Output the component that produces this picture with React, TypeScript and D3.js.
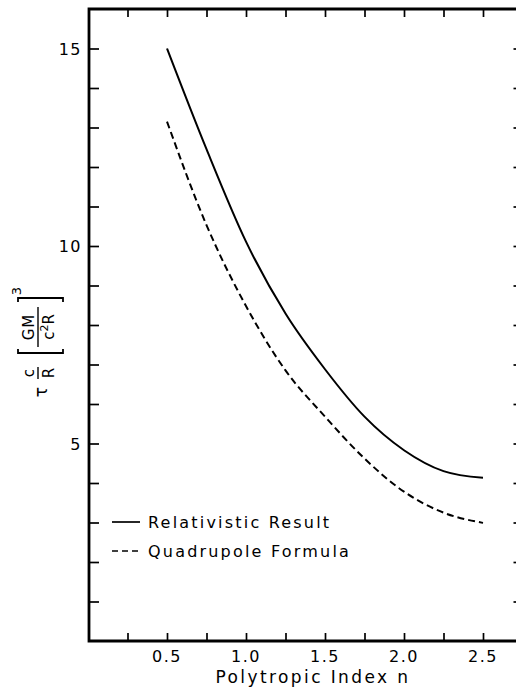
import React, { useRef, useEffect } from 'react';
import * as d3 from 'd3';

// polytropic index n
const nValues = [0.5, 0.75, 1.0, 1.25, 1.5, 1.75, 2.0, 2.25, 2.5];
// tau c/R [GM/c^2R]^3
const relativistic = [15.0, 12.45, 10.11, 8.29, 6.88, 5.68, 4.83, 4.3, 4.13];
const quadrupole = [13.15, 10.53, 8.48, 6.85, 5.68, 4.62, 3.78, 3.25, 2.99];

const xTicks = [0.25, 0.5, 0.75, 1.0, 1.25, 1.5, 1.75, 2.0, 2.25, 2.5];
const xLabels = ['0.5', '1.0', '1.5', '2.0', '2.5'];
const yTicks = d3.range(1, 16);
const yLabels = ['5', '10', '15'];

const legendNames = ['Relativistic Result', 'Quadrupole Formula'];

const W = 516;
const H = 689;
const FONT = '"DejaVu Sans", sans-serif';

export default function App() {
    const ref = useRef<SVGSVGElement>(null);

    useEffect(() => {
        if (!ref.current) return;
        const svg = d3.select(ref.current);
        svg.selectAll('*').remove();

        const x = d3.scaleLinear().domain([0, 2.75]).range([88, 522.5]);
        const y = d3.scaleLinear().domain([0, 16]).range([641, 9]);

        const left = x(0) + 1;
        const right = x(2.75);
        const top = y(16);
        const bottom = y(0);

        /* frame */
        svg.append('path')
            .attr('d', `M${right},${top} L${left},${top} L${left},${bottom} L${right},${bottom}`)
            .attr('fill', 'none')
            .attr('stroke', '#000')
            .attr('stroke-width', 2.8);

        /* x ticks, bottom and top */
        const xb = d3.axisBottom(x).tickValues(xTicks).tickSize(-8).tickFormat(() => '');
        const xt = d3.axisTop(x).tickValues(xTicks).tickSize(-8).tickFormat(() => '');
        svg.append('g').attr('transform', `translate(0,${bottom})`).call(xb);
        svg.append('g').attr('transform', `translate(0,${top})`).call(xt);

        /* y ticks, left and right */
        const yl = d3.axisLeft(y).tickValues(yTicks).tickSize(-10).tickFormat(() => '');
        const yr = d3.axisRight(y).tickValues(yTicks).tickSize(-8).tickFormat(() => '');
        svg.append('g').attr('transform', `translate(${left},0)`).call(yl);
        svg.append('g').attr('transform', `translate(${right - 1},0)`).call(yr);

        svg.selectAll('.domain').remove();
        svg.selectAll('.tick line').attr('stroke', '#000').attr('stroke-width', 1.7);

        /* tick labels */
        svg.append('g').selectAll('text').data(xLabels).enter()
            .append('text')
            .attr('x', d => x(+d))
            .attr('y', 662)
            .attr('text-anchor', 'middle')
            .attr('font-family', FONT)
            .attr('font-size', 16)
            .attr('letter-spacing', 1.5)
            .text(d => d);

        svg.append('g').selectAll('text').data(yLabels).enter()
            .append('text')
            .attr('x', 82)
            .attr('y', d => y(+d) + 6)
            .attr('text-anchor', 'end')
            .attr('font-family', FONT)
            .attr('font-size', 16)
            .attr('letter-spacing', 1.5)
            .text(d => d);

        /* x title */
        svg.append('text')
            .attr('x', 313)
            .attr('y', 683)
            .attr('text-anchor', 'middle')
            .attr('font-family', FONT)
            .attr('font-size', 17)
            .attr('letter-spacing', 2.4)
            .text('Polytropic Index n');

        /* y title, rotated */
        const yt = svg.append('g')
            .attr('transform', 'translate(38,347) rotate(-90)')
            .attr('font-family', FONT)
            .attr('text-anchor', 'middle')
            .attr('font-size', 15);
        yt.append('text').attr('x', -45).attr('y', 9).attr('font-size', 17).text('τ');
        yt.append('text').attr('x', -26).attr('y', -4).text('c');
        yt.append('text').attr('x', -26).attr('y', 16).text('R');
        yt.append('line').attr('x1', -32).attr('x2', -20).attr('y1', 0).attr('y2', 0)
            .attr('stroke', '#000').attr('stroke-width', 1.4);
        yt.append('path').attr('d', 'M-2,-20 L-6,-20 L-6,25 L-2,25')
            .attr('fill', 'none').attr('stroke', '#000').attr('stroke-width', 1.8);
        yt.append('text').attr('x', 20).attr('y', -4).attr('letter-spacing', 1).text('GM');
        const den = yt.append('text').attr('x', 20).attr('y', 16);
        den.append('tspan').text('c');
        den.append('tspan').attr('dy', -6).attr('font-size', 11).text('2');
        den.append('tspan').attr('dy', 6).text('R');
        yt.append('line').attr('x1', 0).attr('x2', 40).attr('y1', 0).attr('y2', 0)
            .attr('stroke', '#000').attr('stroke-width', 1.4);
        yt.append('path').attr('d', 'M45,-20 L49,-20 L49,25 L45,25')
            .attr('fill', 'none').attr('stroke', '#000').attr('stroke-width', 1.8);
        yt.append('text').attr('x', 56).attr('y', -17).attr('font-size', 13).text('3');

        /* curves */
        const line = d3.line<number>()
            .x((_, i) => x(nValues[i]))
            .y(d => y(d))
            .curve(d3.curveMonotoneX);

        svg.append('path')
            .attr('d', line(relativistic))
            .attr('fill', 'none')
            .attr('stroke', '#000')
            .attr('stroke-width', 2);

        svg.append('path')
            .attr('d', line(quadrupole))
            .attr('fill', 'none')
            .attr('stroke', '#000')
            .attr('stroke-width', 2)
            .attr('stroke-dasharray', '7,4');

        /* legend */
        const legY = [522, 551];
        const leg = svg.append('g').selectAll('g').data(legendNames).enter().append('g');
        leg.append('line')
            .attr('x1', 112).attr('x2', 140)
            .attr('y1', (_, i) => legY[i]).attr('y2', (_, i) => legY[i])
            .attr('stroke', '#000')
            .attr('stroke-width', 1.7)
            .attr('stroke-dasharray', (_, i) => (i === 1 ? '6,4' : null));
        leg.append('text')
            .attr('x', 148)
            .attr('y', (_, i) => legY[i] + 6)
            .attr('font-family', FONT)
            .attr('font-size', 16)
            .attr('letter-spacing', 2.2)
            .text(d => d);
    }, []);

    return (
        <svg
            ref={ref}
            width={W}
            height={H}
            style={{ position: 'absolute', left: 0, top: 0, background: '#fff' }}
        />
    );
}
